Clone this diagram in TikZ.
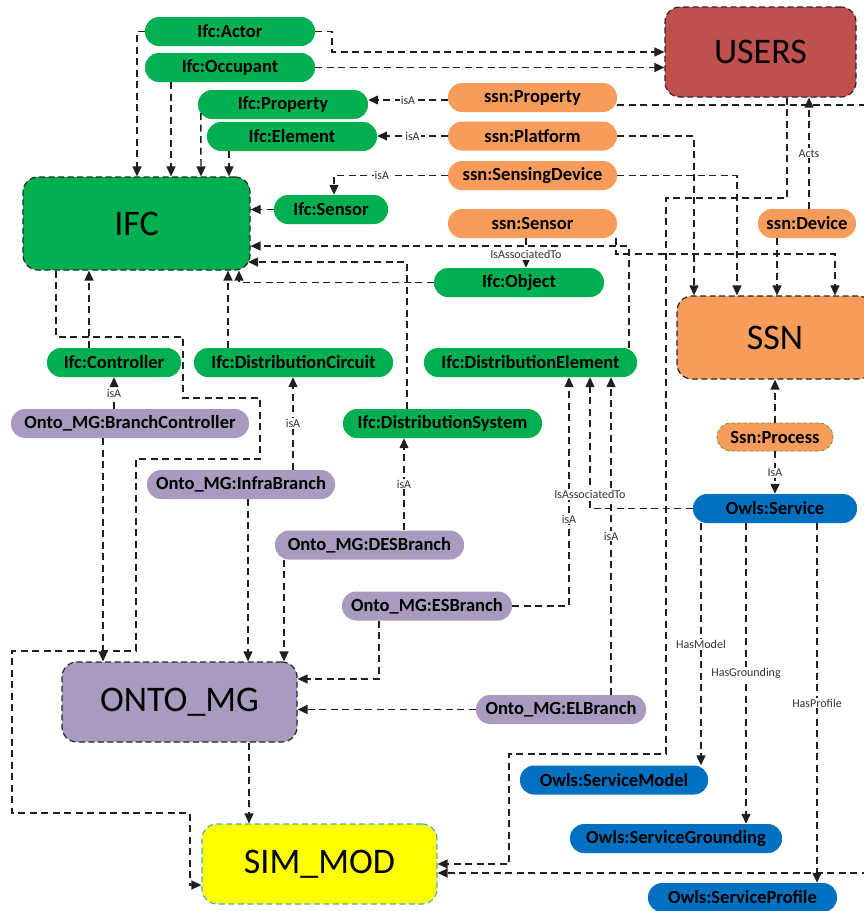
\documentclass[tikz,border=0pt]{standalone}
\usepackage{fontspec}
\setmainfont{Carlito}
\usetikzlibrary{arrows.meta,calc}
\definecolor{ggreen}{HTML}{00B050}
\definecolor{sorange}{HTML}{F79C5A}
\definecolor{mpurple}{HTML}{A99BBF}
\definecolor{oblue}{HTML}{0070C0}
\definecolor{ured}{HTML}{C0504D}
\definecolor{ybox}{HTML}{FFFF00}
\definecolor{cyanb}{HTML}{4BACC6}
\definecolor{olive}{HTML}{77933C}
\tikzset{
  pill/.style={rounded corners=14pt, minimum height=29pt, inner sep=0pt,
    font=\fontsize{18.5}{20}\selectfont\bfseries, text=black},
  ifcp/.style={pill, fill=ggreen},
  ssnp/.style={pill, fill=sorange},
  mgp/.style={pill, fill=mpurple},
  owlp/.style={pill, fill=oblue},
  bigbox/.style={draw=black!85, line width=1.2pt, dash pattern=on 6pt off 3.5pt,
    rounded corners=15pt, inner sep=0pt, font=\fontsize{36}{40}\selectfont, text=black},
  conn/.style={draw=black!88, line width=1.4pt, dash pattern=on 7pt off 4.5pt,
    -{Triangle[length=10pt,width=9pt]}},
  plainconn/.style={draw=black!88, line width=1.4pt, dash pattern=on 7pt off 4.5pt},
  lbl/.style={fill=white, inner sep=1pt, font=\fontsize{12}{13}\selectfont, text=black!80},
}
\begin{document}
\begin{tikzpicture}[x=1pt,y=-1pt]
\useasboundingbox (0,0) rectangle (864,911);
\clip (0,0) rectangle (864,911);

% big boxes
\node[bigbox, fill=ggreen, minimum width=227pt, minimum height=93pt] (ifc) at (136.5,223.5) {IFC};
\node[bigbox, fill=ured, minimum width=191pt, minimum height=90pt] (users) at (760.5,52) {USERS};
\node[bigbox, fill=sorange, minimum width=196pt, minimum height=83pt] (ssn) at (775,337.5) {SSN};
\node[bigbox, fill=mpurple, minimum width=235pt, minimum height=80pt] (ontomg) at (179.5,702) {ONTO\_MG};
\node[bigbox, fill=ybox, draw=cyanb, minimum width=235pt, minimum height=80pt] (simmod) at (319.5,864) {SIM\_MOD};

% IFC pills
\node[ifcp, minimum width=170pt] (actor) at (230,31.5) {Ifc:Actor};
\node[ifcp, minimum width=170pt] (occ) at (230,67.5) {Ifc:Occupant};
\node[ifcp, minimum width=170pt] (iprop) at (283,104.5) {Ifc:Property};
\node[ifcp, minimum width=170pt] (ielem) at (292,136.5) {Ifc:Element};
\node[ifcp, minimum width=114pt] (isens) at (331,209.5) {Ifc:Sensor};
\node[ifcp, minimum width=170pt] (iobj) at (519,282.5) {Ifc:Object};
\node[ifcp, minimum width=134pt] (ictrl) at (114,362.5) {Ifc:Controller};
\node[ifcp, minimum width=199pt] (idc) at (293.5,362.5) {Ifc:DistributionCircuit};
\node[ifcp, minimum width=213pt] (ide) at (530.5,362.5) {Ifc:DistributionElement};
\node[ifcp, minimum width=199pt] (ids) at (442.5,423.5) {Ifc:DistributionSystem};

% SSN pills
\node[ssnp, minimum width=169pt] (sprop) at (532.5,97.5) {ssn:Property};
\node[ssnp, minimum width=169pt] (splat) at (532.5,136) {ssn:Platform};
\node[ssnp, minimum width=169pt] (ssens) at (532.5,175.5) {ssn:SensingDevice};
\node[ssnp, minimum width=169pt] (ssensor) at (532.5,223.5) {ssn:Sensor};
\node[ssnp, minimum width=98pt] (sdev) at (807,223.5) {ssn:Device};
\node[ssnp, minimum width=116pt, minimum height=28pt, draw=olive, line width=0.8pt, dash pattern=on 4pt off 2pt] (proc) at (775,437) {Ssn:Process};

% ONTO_MG pills
\node[mgp, minimum width=238pt] (bc) at (130,423.5) {Onto\_MG:BranchController};
\node[mgp, minimum width=188pt] (infra) at (241,484.5) {Onto\_MG:InfraBranch};
\node[mgp, minimum width=189pt] (des) at (369.5,545) {Onto\_MG:DESBranch};
\node[mgp, minimum width=170pt] (es) at (427,606) {Onto\_MG:ESBranch};
\node[mgp, minimum width=170pt] (el) at (561,709.5) {Onto\_MG:ELBranch};

% OWL-S pills
\node[owlp, minimum width=164pt] (serv) at (775,508.5) {Owls:Service};
\node[owlp, minimum width=188pt] (smod) at (614,780) {Owls:ServiceModel};
\node[owlp, minimum width=212pt] (sgr) at (676,838.5) {Owls:ServiceGrounding};
\node[owlp, minimum width=189pt] (spr) at (742.5,897.5) {Owls:ServiceProfile};

% free ends
\coordinate (offA) at (880,105);
\coordinate (offB) at (880,873);

% ---- connectors ----
\draw[conn] (actor.east) -| (332,52) -- (332,52 -| users.west);
\draw[conn] (actor.west) -| (137,0 |- ifc.north);
\draw[conn] (occ.east) -- (occ.east -| users.west);
\draw[conn] (171,0 |- occ.south) -- (171,0 |- ifc.north);
\draw[conn] ([xshift=3pt,yshift=6pt]iprop.south west) -- (201,0 |- ifc.north);
\draw[conn] (229,0 |- ielem.south) -- (229,0 |- ifc.north);

\draw[conn] (sprop.west |- 0,100) -- node[lbl]{isA} (iprop.east |- 0,100);
\draw[conn] (splat.west) -- node[lbl]{isA} (splat.west -| ielem.east);
\draw[conn] (ssens.west) -| node[lbl,pos=0.29]{isA} (334,0 |- isens.north);
\draw[conn] (isens.west) -- (isens.west -| ifc.east);

\draw[conn] (iobj.west) -| (239,0 |- ifc.south);
\draw[conn] (629,0 |- ide.north) |- (0,246 -| ifc.east);
\draw[conn] (407,0 |- ids.north) |- (248,262);
\draw[conn] (89,0 |- ictrl.north) -- (89,0 |- ifc.south);
\draw[conn] (228,0 |- idc.north) -- (228,0 |- ifc.south);

\draw[conn] (56,0 |- ifc.south) -- (56,337) -- (183,337) -- (183,398) -- (260,398)
  -- (260,459) -- (136,459) -- (136,651) -- (12,651) -- (12,813) -- (190,813)
  -- (190,885) -- (190,885 -| simmod.west);

\draw[conn] (114,0 |- bc.north) -- node[lbl]{isA} (114,0 |- ictrl.south);
\draw[conn] (103,0 |- bc.south) -- (103,0 |- ontomg.north);
\draw[conn] (293,0 |- infra.north) -- node[lbl]{isA} (293,0 |- idc.south);
\draw[conn] (248,0 |- infra.south) -- (248,0 |- ontomg.north);
\draw[conn] (404,0 |- des.north) -- node[lbl]{isA} (404,0 |- ids.south);
\draw[conn] (284,0 |- des.south) -- (284,0 |- ontomg.north);
\draw[conn] (379,0 |- es.south) |- (0,679 -| ontomg.east);
\draw[conn] (el.west) -- (el.west -| ontomg.east);
\draw[conn] (249,0 |- ontomg.south) -- (249,0 |- simmod.north);

\draw[conn] (es.east) -| node[lbl,pos=0.69]{isA} (569,0 |- ide.south);
\draw[conn] (611,0 |- el.north) -- node[lbl]{isA} (611,0 |- ide.south);

\draw[conn] (users.south -| 787,0) -- (787,198) -- (666,198) -- (666,754) -- (509,754)
  -- (509,864) -- (509,864 -| simmod.east);
\draw[conn] (offB) -- (offB -| simmod.east);
\draw[plainconn] ([yshift=-7.5pt]sprop.east) -- (offA);

\draw[conn] (616,0 |- ssensor.south) -- (616,254) -- (835,254) -- (835,0 |- ssn.north);
\draw[conn] (splat.east) -| (694,0 |- ssn.north);
\draw[conn] (ssens.east) -| (737,0 |- ssn.north);
\draw[conn] (777,0 |- sdev.south) -- (777,0 |- ssn.north);
\draw[conn] (809,0 |- sdev.north) -- node[lbl]{Acts} (809,0 |- users.south);

\draw[conn] (proc.north) -- (proc.north |- ssn.south);
\draw[conn] (proc.south) -- node[lbl]{IsA} (proc.south |- serv.north);
\draw[conn] (701,0 |- serv.south) -- node[lbl]{HasModel} (701,0 |- smod.north);
\draw[conn] (746,0 |- serv.south) -- node[lbl]{HasGrounding} (746,0 |- sgr.north);
\draw[conn] (817,0 |- serv.south) -- node[lbl]{HasProfile} (817,0 |- spr.north);

\draw[conn] (526,0 |- ssensor.south) -- node[lbl,pos=0.55]{IsAssociatedTo} (526,0 |- iobj.north);
\draw[conn] (serv.west) -| node[lbl,pos=0.553]{IsAssociatedTo} (590,0 |- ide.south);
\end{tikzpicture}
\end{document}
